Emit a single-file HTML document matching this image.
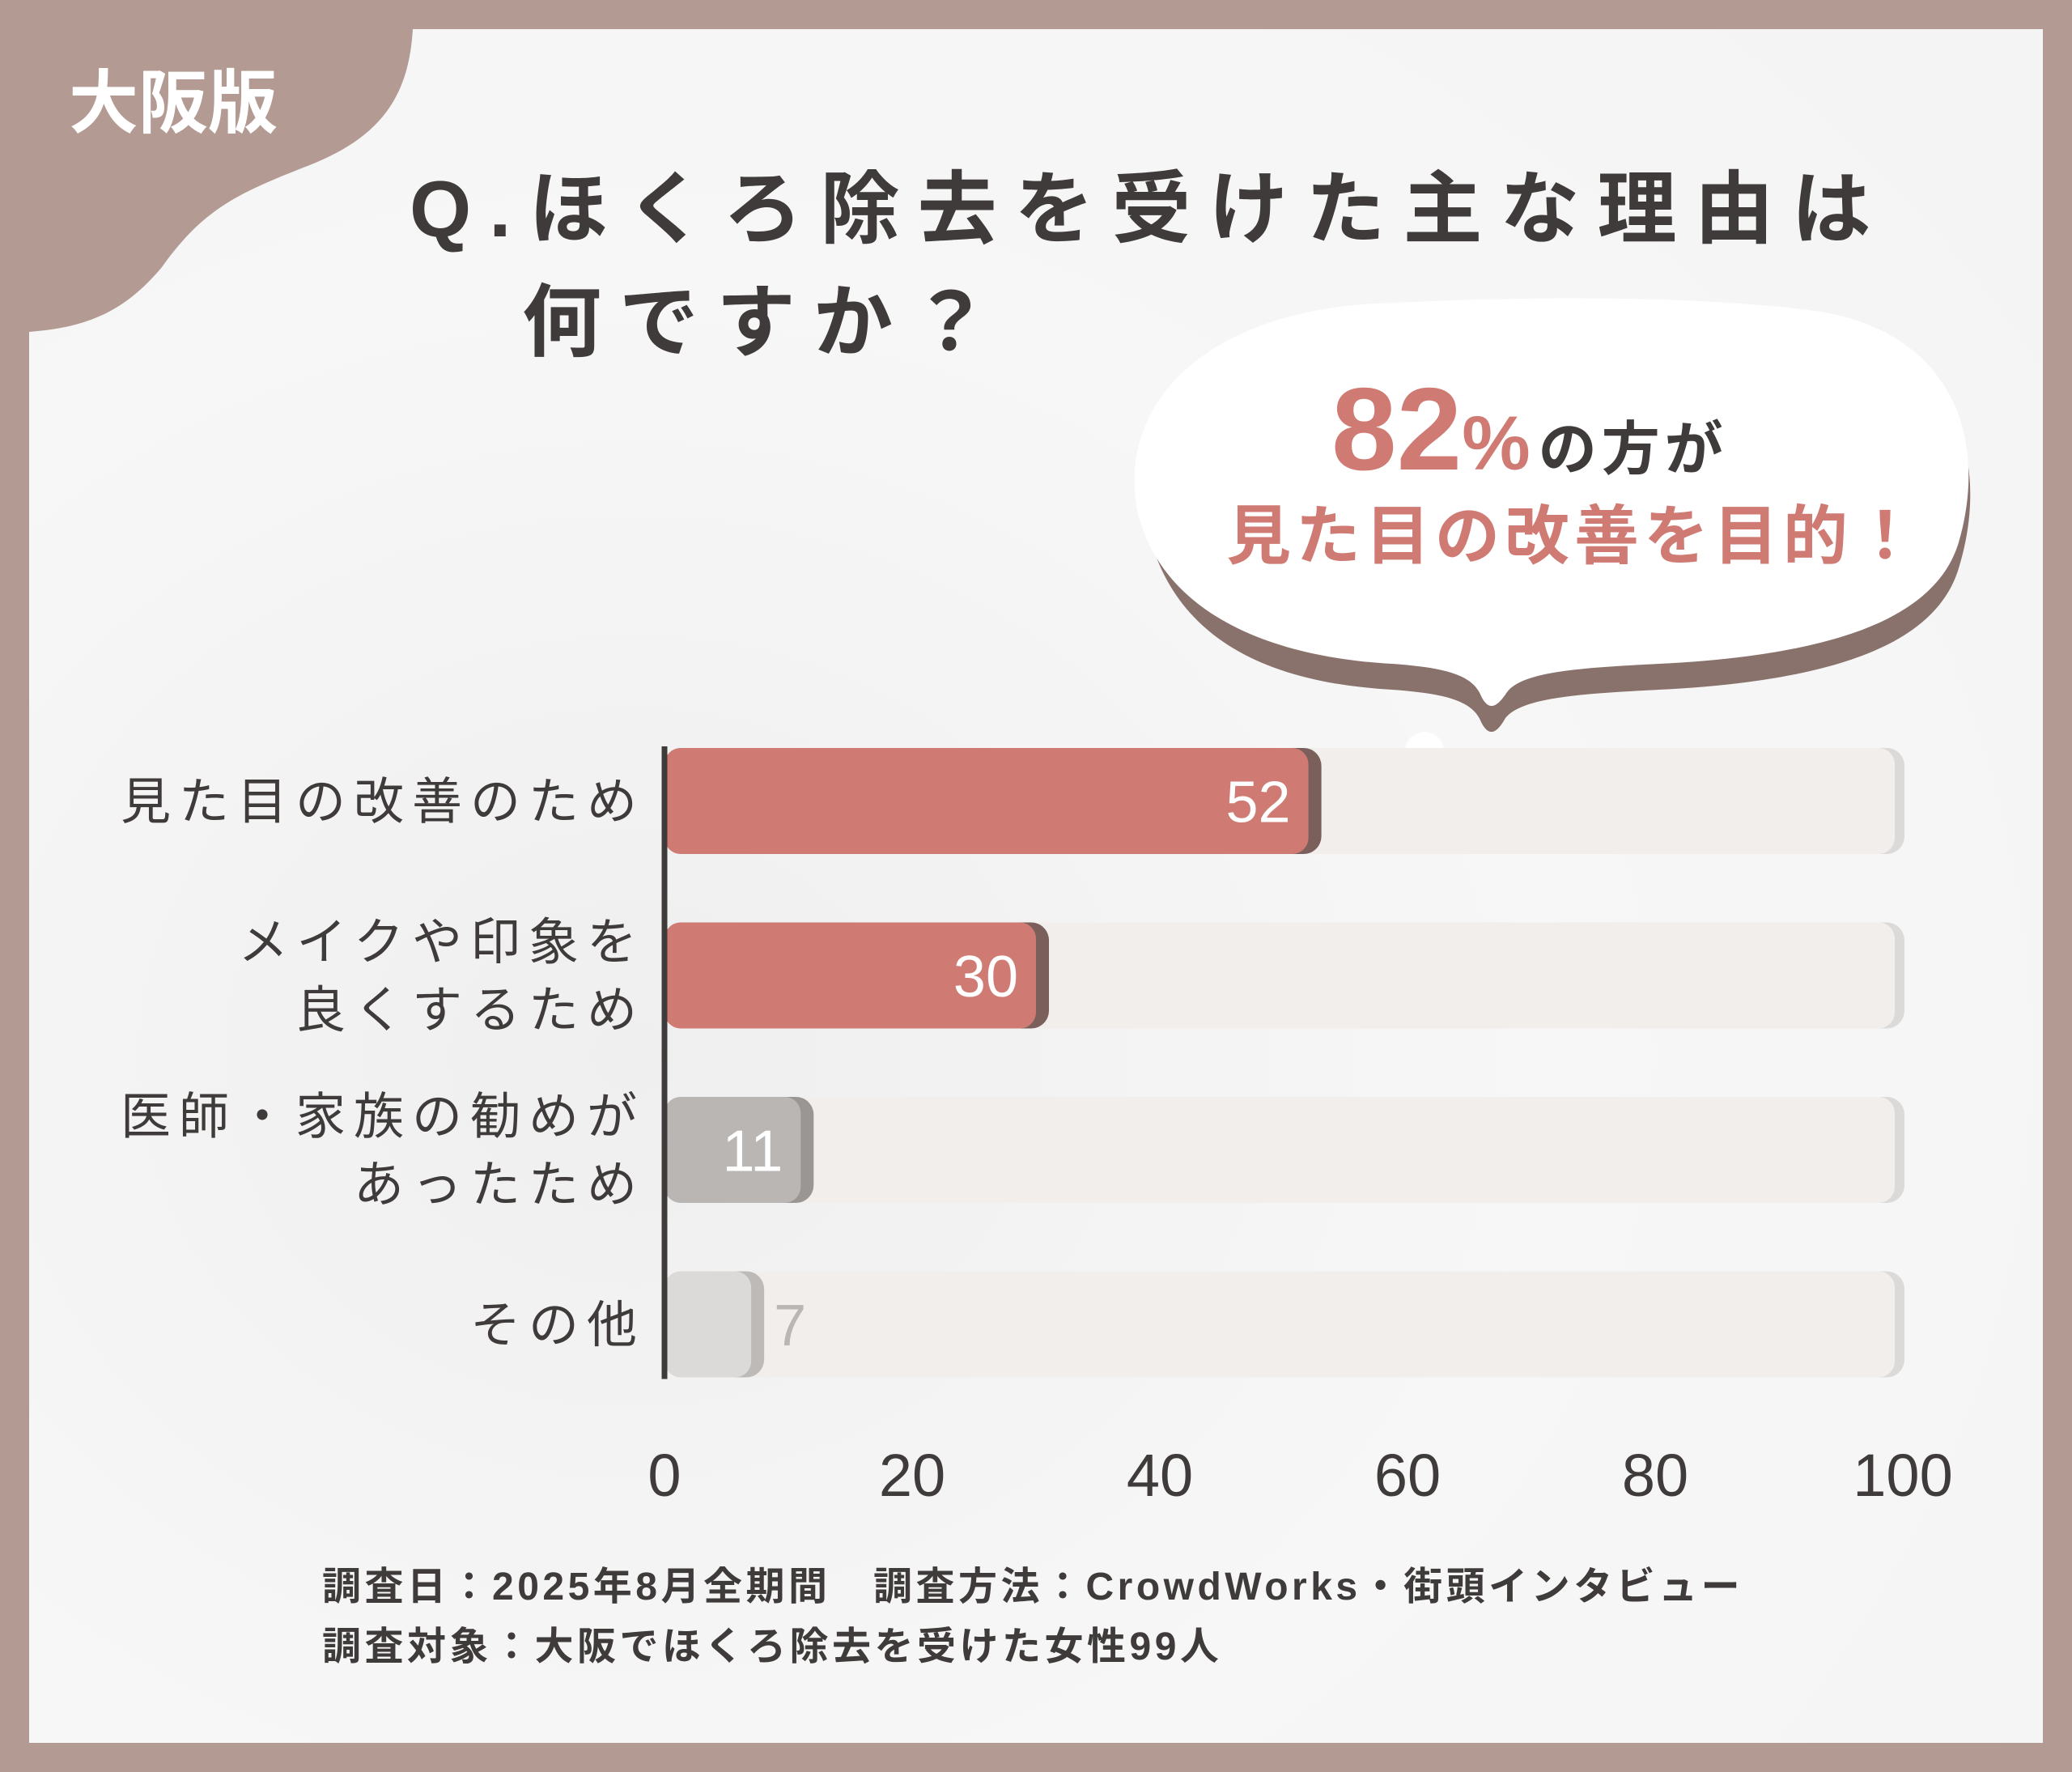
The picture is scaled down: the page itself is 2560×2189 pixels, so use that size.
<!DOCTYPE html>
<html><head><meta charset="utf-8"><style>
html,body{margin:0;padding:0;background:#b39a92;}
svg{display:block;}
text{font-family:"Liberation Sans","Noto Sans CJK JP",sans-serif;}
</style></head><body>
<svg id="chart" width="2560" height="2189" viewBox="0 0 2560 2189" xmlns="http://www.w3.org/2000/svg">
<defs>
<radialGradient id="bg" cx="0.3" cy="0.6" r="0.9">
<stop offset="0" stop-color="#efefef"/><stop offset="0.5" stop-color="#f7f7f7"/><stop offset="1" stop-color="#f4f4f4"/>
</radialGradient>
</defs>
<rect x="0" y="0" width="2560" height="2189" fill="#b39a92"/>
<rect x="36" y="36" width="2488" height="2117" fill="url(#bg)"/>
<path d="M36 36 H510 C505 120 470 170 380 205 C290 240 250 260 200 330 C150 390 100 405 36 410 Z" fill="#b39a92"/>
<text x="85" y="157" font-size="86" font-weight="bold" fill="#ffffff">大阪版</text>
<text x="506" y="292" font-size="98" font-weight="bold" fill="#3f3b3a" letter-spacing="22">Q.ほくろ除去を受けた主な理由は</text>
<text x="645" y="432" font-size="98" font-weight="bold" fill="#3f3b3a" letter-spacing="22">何ですか？</text>
<g>
<path d="M1420 650 C1380 500 1500 390 1700 380 C1900 370 2100 370 2250 390 C2420 420 2460 560 2420 690 C2390 790 2250 830 2050 840 C1950 845 1880 850 1860 875 C1850 893 1840 900 1830 880 C1820 855 1790 845 1720 840 C1540 830 1450 760 1420 650 Z" fill="#8a726c" transform="translate(0,12)"/>
<path d="M1405 630 C1380 490 1500 385 1700 375 C1900 365 2100 365 2250 385 C2420 415 2455 550 2420 670 C2390 770 2250 810 2050 820 C1950 825 1880 830 1862 855 C1850 873 1840 880 1830 860 C1820 835 1790 825 1720 820 C1540 810 1430 740 1405 630 Z" fill="#ffffff"/>
<circle cx="1760" cy="935" r="26" fill="#8a726c"/><circle cx="1760" cy="928" r="24" fill="#ffffff"/>
<circle cx="1700" cy="962" r="13" fill="#8a726c"/><circle cx="1700" cy="956" r="12" fill="#ffffff"/>
</g>
<text x="1645" y="580" fill="#d07a74" font-weight="bold"><tspan font-size="145">82</tspan><tspan font-size="95">%</tspan><tspan font-size="72" fill="#3f3b3a" dx="10" letter-spacing="6">の方が</tspan></text>
<text x="1515" y="690" font-size="80" font-weight="bold" fill="#d07a74" letter-spacing="6">見た目の改善を目的！</text>
<g id="bars"></g>
<g id="ticks"></g>
<text x="398" y="1976" font-size="48" font-weight="bold" fill="#3f3b3a" letter-spacing="4.5">調査日：2025年8月全期間　調査方法：CrowdWorks・街頭インタビュー</text>
<text x="398" y="2050" font-size="48" font-weight="bold" fill="#3f3b3a" letter-spacing="4.5">調査対象：大阪でほくろ除去を受けた女性99人</text>
</svg>
<script>
const categories=[["見た目の改善のため"],["メイクや印象を","良くするため"],["医師・家族の勧めが","あったため"],["その他"]];
const values=[52,30,11,7];
const barColors=["#d07a74","#d07a74","#b9b6b4","#dcdad9"];
const tickValues=[0,20,40,60,80,100];
const NS="http://www.w3.org/2000/svg";
const x0=821,x1=2351,rowTop=924,rowStep=215.5,barH=131;
const xs=v=>x0+(x1-x0)*v/100;
const g=document.getElementById('bars');
function mk(tag,attrs,parent){const e=document.createElementNS(NS,tag);for(const k in attrs)e.setAttribute(k,attrs[k]);parent.appendChild(e);return e;}
values.forEach((v,i)=>{
  const y=rowTop+i*rowStep;
  const track=mk('rect',{x:x0,y:y,width:x1-x0+2,height:barH,rx:22,fill:"#dcdad9"},g);
  
  
  const tr2=mk('rect',{x:x0,y:y,width:x1-x0-10,height:barH,rx:20,fill:"#f2eeec"},g);
  
  
  const w=xs(v)-x0;
  const sh=mk('rect',{x:x0,y:y,width:w+16,height:barH,rx:22,fill:i<2?"#7a5f5a":(i==2?"#9a9694":"#bdbab8")},g);
  
  
  const b=mk('rect',{x:x0,y:y,width:w,height:barH,rx:20,fill:barColors[i]},g);
  
  
  const inside=v>=10;
  const t=mk('text',{x:inside?xs(v)-22:xs(v)+28,y:y+barH/2+26,"font-size":72,fill:inside?"#ffffff":"#b9b6b4","text-anchor":inside?"end":"start"},g);
  t.textContent=v;
  
  
  const lines=categories[i];
  lines.forEach((ln,j)=>{
    const cy=lines.length==1?y+barH/2+22:y+barH/2-42+j*84+22;
    const lt=mk('text',{x:797,y:cy,"font-size":62,fill:"#3f3b3a","text-anchor":"end","letter-spacing":10},g);
    lt.textContent=ln;
    
    
  });
});
const ax=mk('line',{x1:x0,y1:rowTop-2,x2:x0,y2:rowTop+3*rowStep+barH+2,stroke:"#3f3b3a","stroke-width":7},g);


const tg=document.getElementById('ticks');
tickValues.forEach(v=>{
  const t=mk('text',{x:xs(v),y:1848,"font-size":74,fill:"#3f3b3a","text-anchor":"middle"},tg);
  t.textContent=v;
  
  
});
</script>
</body></html>
